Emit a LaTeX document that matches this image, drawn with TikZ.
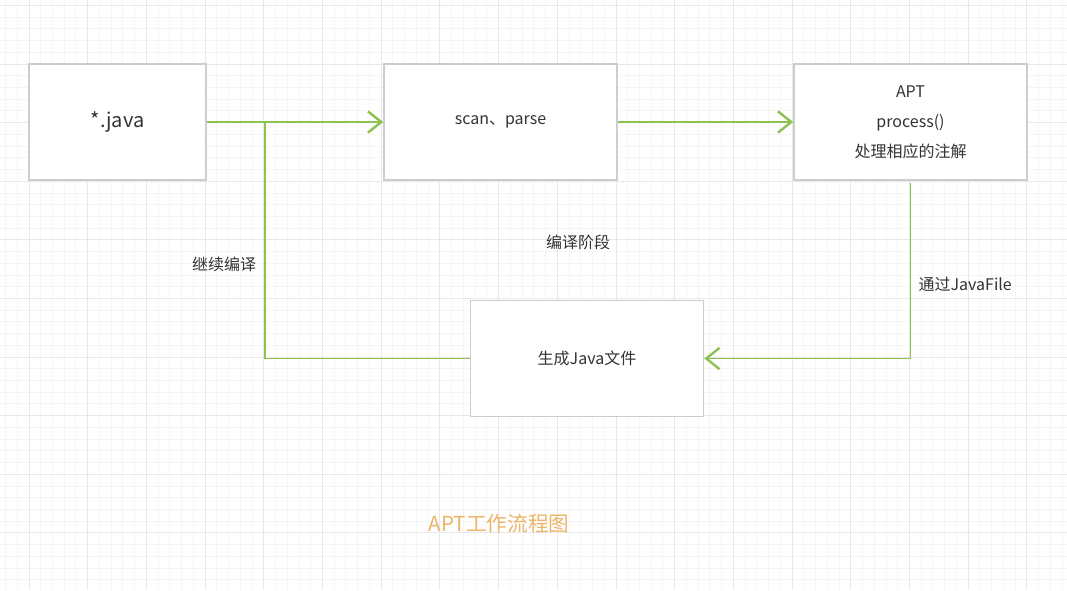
\documentclass[tikz,border=0pt]{standalone}
\usepackage{fontspec}
\setmainfont{Noto Sans CJK SC}
\usetikzlibrary{arrows.meta,positioning}
\definecolor{boxgray}{RGB}{205,205,205}
\definecolor{flowgreen}{RGB}{140,195,80}
\definecolor{txtgray}{RGB}{51,51,51}
\definecolor{titleorange}{RGB}{236,182,105}

\begin{document}
\begin{tikzpicture}[
    x=0.75pt, y=-0.75pt,
    gridminor/.style={draw=black!4, line width=0.75pt},
    gridmajor/.style={draw=black!9, line width=0.75pt},
    box/.style={draw=boxgray, line width=1.2pt, fill=white, minimum width=174.75pt, minimum height=87pt, align=center, text=txtgray, font=\fontsize{12}{22.5}\selectfont},
    arr/.style={draw=flowgreen, line width=1.2pt, -{Straight Barb[length=10pt, width=16pt, line width=1.8pt]}},
    lnk/.style={draw=flowgreen, line width=1.2pt},
    lbl/.style={text=txtgray, font=\fontsize{12}{14}\selectfont, inner sep=1pt}
]
\useasboundingbox (0,0) rectangle (1067,590);
\fill[white] (0,0) rectangle (1067,590);
\begin{scope}
\clip (0,0) rectangle (1067,590);
\foreach \i in {-3,...,88} \draw[gridminor] ({29+11.74*\i},0) -- ++(0,590);
\foreach \j in {-1,...,51} \draw[gridminor] (0,{5.5+11.72*\j}) -- ++(1067,0);
\foreach \i in {-1,...,18} \draw[gridmajor] ({29+58.7*\i},0) -- ++(0,590);
\foreach \j in {0,...,10} \draw[gridmajor] (0,{5.5+58.6*\j}) -- ++(1067,0);
\end{scope}

\node[box, minimum width=132.75pt, font=\fontsize{15}{18}\selectfont] (java) at (117.5,122) {*.java};
\node[box] (scan) at (500.5,122) {scan、parse};
\node[box] (apt) at (910.5,122) {APT\\process()\\处理相应的注解};
\node[box] (gen) at (587,358.5) {生成Java文件};
\coordinate (jn) at (265,122);

\draw[arr] (java) -- (scan);
\draw[arr] (scan) -- (apt);
\draw[arr] ([yshift=-2pt]apt.south) |- (gen.east);
\draw[lnk] (gen.west) -| (jn);

\node[lbl] (cont) at (224,264) {继续编译};
\node[lbl] (stage) at (578,242) {编译阶段};
\node[lbl, anchor=west] (via) at (917,284) {通过JavaFile};
\node[text=titleorange, font=\fontsize{15.5}{18}\selectfont] (title) at (499,524) {APT工作流程图};
\end{tikzpicture}
\end{document}
